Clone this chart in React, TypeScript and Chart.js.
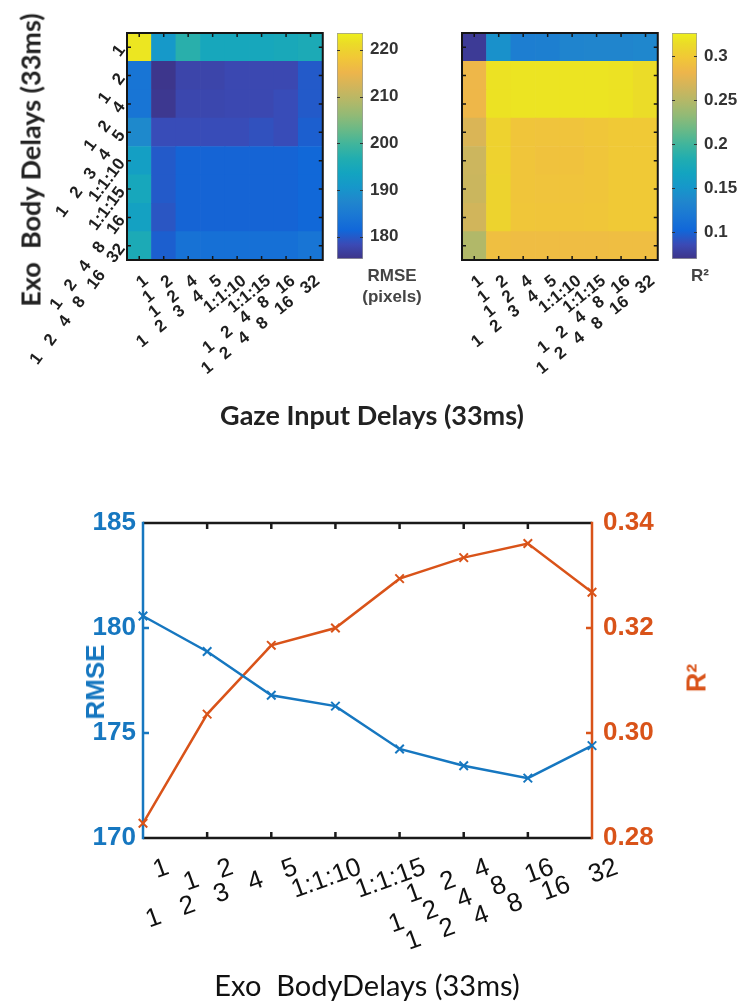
import React, { useEffect, useRef } from 'react';
import { Chart, registerables } from 'chart.js';

Chart.register(...registerables);
Chart.defaults.font.family = "'Liberation Sans', Arial, sans-serif";

// ---------------- data ----------------
const HEAT_X_LABELS = ['1', '1   2', '1   2   4', '1   2   3   4   5', '1:1:10', '1:1:15', '1   2   4   8   16', '1   2   4   8   16   32'];
const HEAT_Y_LABELS = ['1', '1   2', '1   2   4', '1   2   3   4   5', '1:1:10', '1:1:15', '1   2   4   8   16', '1   2   4   8   16   32'];

// rows: top -> bottom (exo body delays), cols: left -> right (gaze input delays)
const RMSE_ROW1 = [222.5, 191, 197.5, 194.5, 194.5, 194.5, 195, 195.5];
const RMSE_ROW2 = [184, 175.5, 177.5, 177.5, 178, 178, 178, 180];
const RMSE_ROW3 = [184, 175.8, 177.8, 177.8, 178, 178, 178.5, 180];
const RMSE_ROW4 = [188, 178.5, 178.5, 178.5, 178.5, 179, 178.5, 180.5];
const RMSE_ROW5 = [192.5, 180, 181, 181, 181, 181, 181, 181.5];
const RMSE_ROW6 = [194.5, 180, 181, 181, 181, 181, 181, 181.5];
const RMSE_ROW7 = [193, 179.5, 181, 181, 181, 181, 181, 181.5];
const RMSE_ROW8 = [195.5, 180.5, 183.5, 183, 183, 183, 183, 184];
const RMSE_GRID = [RMSE_ROW1, RMSE_ROW2, RMSE_ROW3, RMSE_ROW4, RMSE_ROW5, RMSE_ROW6, RMSE_ROW7, RMSE_ROW8];

const R2_ROW1 = [0.075, 0.146, 0.126, 0.127, 0.133, 0.134, 0.134, 0.136];
const R2_ROW2 = [0.283, 0.318, 0.319, 0.319, 0.319, 0.319, 0.318, 0.314];
const R2_ROW3 = [0.283, 0.318, 0.319, 0.319, 0.319, 0.319, 0.318, 0.314];
const R2_ROW4 = [0.27, 0.306, 0.295, 0.294, 0.294, 0.296, 0.299, 0.299];
const R2_ROW5 = [0.262, 0.306, 0.295, 0.293, 0.293, 0.295, 0.299, 0.299];
const R2_ROW6 = [0.261, 0.307, 0.295, 0.294, 0.294, 0.295, 0.299, 0.299];
const R2_ROW7 = [0.265, 0.307, 0.296, 0.295, 0.295, 0.296, 0.299, 0.299];
const R2_ROW8 = [0.248, 0.29, 0.288, 0.288, 0.288, 0.288, 0.289, 0.289];
const R2_GRID = [R2_ROW1, R2_ROW2, R2_ROW3, R2_ROW4, R2_ROW5, R2_ROW6, R2_ROW7, R2_ROW8];

const RMSE_RANGE = [175.2, 223.6];
const R2_RANGE = [0.0697, 0.326];
const RMSE_CB_TICKS = [180, 190, 200, 210, 220];
const R2_CB_TICKS = [0.1, 0.15, 0.2, 0.25, 0.3];

const LINE_LABELS = ['1', '1   2', '1   2   3   4   5', '1:1:10', '1:1:15', '1   2   4', '1   2   4   8   16', '1   2   4   8   16   32'];
const RMSE_LINE = [180.57, 178.88, 176.8, 176.28, 174.24, 173.44, 172.85, 174.4];
const R2_LINE = [0.2828, 0.3036, 0.3167, 0.32, 0.3294, 0.3334, 0.3361, 0.3268];
const RMSE_AXIS_TICKS = [170, 175, 180, 185];
const R2_AXIS_TICKS = [0.28, 0.3, 0.32, 0.34];

// ---------------- styling ----------------
const BLUE = '#1677C0';
const ORANGE = '#D95319';

const PARULA_POS = [0, 4, 8, 12, 16, 20, 24, 28, 32, 36, 40, 44, 48, 52, 56, 60, 63].map((v) => v / 63);
const PARULA_RGB = [
  [53, 42, 135], [50, 67, 186], [3, 99, 225], [13, 117, 220], [20, 133, 212], [9, 152, 209],
  [6, 167, 198], [21, 177, 180], [56, 185, 158], [101, 190, 134], [146, 191, 115], [183, 189, 100],
  [217, 186, 86], [248, 186, 68], [252, 206, 46], [245, 228, 29], [249, 251, 14],
];

// slight wash, as in the printed figure
function wash(c: number[]): number[] {
  return c.map((v) => Math.round(v * 0.9 + 140 * 0.1));
}
function rgbStr(c: number[]): string {
  return `rgb(${c[0]},${c[1]},${c[2]})`;
}

function parula(t: number): string {
  const x = Math.max(0, Math.min(1, t));
  let i = 0;
  while (i < PARULA_POS.length - 2 && x > PARULA_POS[i + 1]) i++;
  const f = (x - PARULA_POS[i]) / (PARULA_POS[i + 1] - PARULA_POS[i]);
  const a = PARULA_RGB[i];
  const b = PARULA_RGB[i + 1];
  return rgbStr(wash(a.map((v, k) => v + (b[k] - v) * f)));
}

const HEAT_TICK_FONT = { family: "'Liberation Sans', Arial, sans-serif", size: 17, weight: 'bold' as const };

const heatFrame = {
  id: 'heatFrame',
  afterDraw(chart: any) {
    const { ctx, chartArea: a, scales } = chart;
    ctx.save();
    ctx.strokeStyle = '#151515';
    ctx.lineWidth = 1.5;
    ctx.beginPath();
    scales.x.ticks.forEach((_: any, i: number) => {
      const px = scales.x.getPixelForTick(i);
      ctx.moveTo(px, a.top);
      ctx.lineTo(px, a.top + 4);
      ctx.moveTo(px, a.bottom);
      ctx.lineTo(px, a.bottom - 4);
    });
    scales.y.ticks.forEach((t: any) => {
      const py = scales.y.getPixelForValue(t.value);
      ctx.moveTo(a.left, py);
      ctx.lineTo(a.left + 4, py);
      ctx.moveTo(a.right, py);
      ctx.lineTo(a.right - 4, py);
    });
    ctx.stroke();
    ctx.lineWidth = 2;
    ctx.strokeRect(a.left, a.top, a.right - a.left, a.bottom - a.top);
    ctx.restore();
  },
};

function heatConfig(grid: number[][], range: number[], showY: boolean): any {
  const datasets: any[] = [];
  for (let r = grid.length - 1; r >= 0; r--) {
    datasets.push({
      data: grid[r].map(() => 1),
      backgroundColor: grid[r].map((v) => parula((v - range[0]) / (range[1] - range[0]))),
      borderWidth: 0,
      barPercentage: 1,
      categoryPercentage: 1,
    });
  }
  const nRows = grid.length;
  return {
    type: 'bar',
    data: { labels: HEAT_X_LABELS, datasets },
    options: {
      animation: false,
      responsive: false,
      events: [],
      layout: { padding: { top: 33, right: 10, left: 0, bottom: 0 } },
      plugins: { legend: { display: false }, tooltip: { enabled: false } },
      scales: {
        x: {
          stacked: true,
          offset: true,
          grid: { display: false, drawTicks: false },
          border: { display: false },
          ticks: {
            autoSkip: false,
            minRotation: 39,
            maxRotation: 39,
            labelOffset: 7,
            padding: 11,
            font: HEAT_TICK_FONT,
            color: '#1e1e1e',
          },
          afterFit: (s: any) => { s.height = 140; },
        },
        y: {
          stacked: true,
          min: 0,
          max: nRows,
          grid: { display: false, drawTicks: false },
          border: { display: false },
          afterBuildTicks: (s: any) => {
            s.ticks = HEAT_Y_LABELS.map((_, i) => ({ value: nRows - 0.5 - i }));
          },
          ticks: {
            display: showY,
            autoSkip: false,
            minRotation: 53,
            maxRotation: 53,
            padding: 5,
            font: HEAT_TICK_FONT,
            color: '#1e1e1e',
            callback: (v: number) => HEAT_Y_LABELS[Math.round(nRows - 0.5 - v)],
          },
          afterFit: (s: any) => { s.width = 127; },
        },
      },
    },
    plugins: [heatFrame],
  };
}

const cbFrame = {
  id: 'cbFrame',
  afterDraw(chart: any) {
    const { ctx, chartArea: a, scales } = chart;
    ctx.save();
    ctx.strokeStyle = '#333';
    ctx.lineWidth = 1;
    ctx.beginPath();
    scales.y.ticks.forEach((t: any) => {
      const py = Math.round(scales.y.getPixelForValue(t.value)) + 0.5;
      ctx.moveTo(a.right, py);
      ctx.lineTo(a.right - 3, py);
      ctx.moveTo(a.left, py);
      ctx.lineTo(a.left + 3, py);
    });
    ctx.stroke();
    ctx.restore();
  },
};

function colorbarConfig(range: number[], ticks: number[], axisWidth: number, bottomPad: number): any {
  return {
    type: 'bar',
    data: {
      labels: [''],
      datasets: [
        {
          data: [[range[0], range[1]]],
          backgroundColor: (c: any) => {
            const chart = c.chart;
            const ys = chart.scales && chart.scales.y;
            if (!ys || !chart.chartArea) return '#888';
            const y0 = ys.getPixelForValue(range[0]);
            const y1 = ys.getPixelForValue(range[1]);
            const g = chart.ctx.createLinearGradient(0, y0, 0, y1);
            PARULA_POS.forEach((p, i) => {
              g.addColorStop(p, rgbStr(wash(PARULA_RGB[i])));
            });
            return g;
          },
          borderColor: '#9a9a9a',
          borderWidth: 1,
          borderSkipped: false,
          barPercentage: 1,
          categoryPercentage: 1,
        },
      ],
    },
    options: {
      animation: false,
      responsive: false,
      events: [],
      layout: { padding: { top: 33, left: 7, right: 0, bottom: bottomPad } },
      plugins: { legend: { display: false }, tooltip: { enabled: false } },
      scales: {
        x: { display: false },
        y: {
          position: 'right',
          min: range[0],
          max: range[1],
          grid: { display: false, drawTicks: false },
          border: { display: false },
          afterBuildTicks: (s: any) => { s.ticks = ticks.map((v) => ({ value: v })); },
          ticks: {
            padding: 7,
            font: { family: "'Liberation Sans', Arial, sans-serif", size: 17, weight: 'bold' },
            color: '#333',
            callback: (v: number) => String(Math.round(v * 100) / 100),
          },
          afterFit: (s: any) => { s.width = axisWidth; },
        },
      },
    },
    plugins: [cbFrame],
  };
}

const lineFrame = {
  id: 'lineFrame',
  beforeDatasetsDraw(chart: any) {
    const { ctx, chartArea: a, scales } = chart;
    ctx.save();
    ctx.lineWidth = 2.5;
    ctx.strokeStyle = '#1a1a1a';
    ctx.beginPath();
    ctx.moveTo(a.left, a.top);
    ctx.lineTo(a.right, a.top);
    ctx.moveTo(a.left, a.bottom);
    ctx.lineTo(a.right, a.bottom);
    const n = scales.x.ticks.length;
    for (let i = 1; i < n - 1; i++) {
      const px = scales.x.getPixelForTick(i);
      ctx.moveTo(px, a.top);
      ctx.lineTo(px, a.top + 6);
      ctx.moveTo(px, a.bottom);
      ctx.lineTo(px, a.bottom - 6);
    }
    ctx.stroke();

    ctx.strokeStyle = BLUE;
    ctx.beginPath();
    ctx.moveTo(a.left, a.top - 1.25);
    ctx.lineTo(a.left, a.bottom + 1.25);
    scales.y.ticks.forEach((t: any) => {
      if (t.value > scales.y.min && t.value < scales.y.max) {
        const py = scales.y.getPixelForValue(t.value);
        ctx.moveTo(a.left, py);
        ctx.lineTo(a.left + 6, py);
      }
    });
    ctx.stroke();

    ctx.strokeStyle = ORANGE;
    ctx.beginPath();
    ctx.moveTo(a.right, a.top - 1.25);
    ctx.lineTo(a.right, a.bottom + 1.25);
    scales.y1.ticks.forEach((t: any) => {
      if (t.value > scales.y1.min + 1e-9 && t.value < scales.y1.max - 1e-9) {
        const py = scales.y1.getPixelForValue(t.value);
        ctx.moveTo(a.right, py);
        ctx.lineTo(a.right - 6, py);
      }
    });
    ctx.stroke();
    ctx.restore();
  },
};

function lineConfig(): any {
  const tickFont = { family: "'Liberation Sans', Arial, sans-serif", size: 26, weight: 'bold' as const };
  return {
    type: 'line',
    data: {
      labels: LINE_LABELS,
      datasets: [
        {
          label: 'RMSE',
          data: RMSE_LINE,
          yAxisID: 'y',
          borderColor: BLUE,
          backgroundColor: BLUE,
          borderWidth: 2.5,
          pointStyle: 'crossRot',
          pointRadius: 6,
          pointBorderWidth: 2,
          tension: 0,
          clip: false,
        },
        {
          label: 'R2',
          data: R2_LINE,
          yAxisID: 'y1',
          borderColor: ORANGE,
          backgroundColor: ORANGE,
          borderWidth: 2.5,
          pointStyle: 'crossRot',
          pointRadius: 6,
          pointBorderWidth: 2,
          tension: 0,
          clip: false,
        },
      ],
    },
    options: {
      animation: false,
      responsive: false,
      events: [],
      layout: { padding: { top: 43, left: 0, right: 0, bottom: 0 } },
      plugins: { legend: { display: false }, tooltip: { enabled: false } },
      scales: {
        x: {
          offset: false,
          grid: { display: false, drawTicks: false },
          border: { display: false },
          ticks: {
            autoSkip: false,
            minRotation: 20,
            maxRotation: 20,
            labelOffset: 25,
            padding: 14,
            font: { family: "'Liberation Sans', Arial, sans-serif", size: 26 },
            color: '#111',
          },
          afterFit: (s: any) => { s.height = 168; },
        },
        y: {
          position: 'left',
          min: 170,
          max: 185,
          grid: { display: false, drawTicks: false },
          border: { display: false },
          afterBuildTicks: (s: any) => { s.ticks = RMSE_AXIS_TICKS.map((v) => ({ value: v })); },
          ticks: { padding: 7, font: tickFont, color: BLUE },
          afterFit: (s: any) => { s.width = 143; },
        },
        y1: {
          position: 'right',
          min: 0.28,
          max: 0.34,
          grid: { display: false, drawTicks: false },
          border: { display: false },
          afterBuildTicks: (s: any) => { s.ticks = R2_AXIS_TICKS.map((v) => ({ value: v })); },
          ticks: { padding: 11, font: tickFont, color: ORANGE, callback: (v: number) => v.toFixed(2) },
          afterFit: (s: any) => { s.width = 148; },
        },
      },
    },
    plugins: [lineFrame],
  };
}

// ---------------- components ----------------
function ChartBox(props: { make: () => any; left: number; top: number; width: number; height: number }) {
  const ref = useRef<HTMLCanvasElement>(null);
  useEffect(() => {
    const chart = new Chart(ref.current as HTMLCanvasElement, props.make());
    return () => chart.destroy();
  }, []);
  return (
    <canvas
      ref={ref}
      width={props.width}
      height={props.height}
      style={{ position: 'absolute', left: props.left, top: props.top, width: props.width, height: props.height }}
    />
  );
}

function Label(props: { text: string; cx: number; cy: number; rotate?: number; font: string; color: string }) {
  return (
    <div
      style={{
        position: 'absolute',
        left: props.cx,
        top: props.cy,
        transform: `translate(-50%, -50%) rotate(${props.rotate || 0}deg)`,
        whiteSpace: 'pre',
        font: props.font,
        lineHeight: 1,
        color: props.color,
      }}
    >
      {props.text}
    </div>
  );
}

export default function App() {
  return (
    <div style={{ position: 'absolute', left: 0, top: 0, width: 740, height: 1006, background: '#fff', overflow: 'hidden' }}>
      <ChartBox make={() => heatConfig(RMSE_GRID, RMSE_RANGE, true)} left={0} top={0} width={335} height={400} />
      <ChartBox make={() => colorbarConfig(RMSE_RANGE, RMSE_CB_TICKS, 77, 41)} left={330} top={0} width={110} height={300} />
      <ChartBox make={() => heatConfig(R2_GRID, R2_RANGE, false)} left={335} top={0} width={335} height={400} />
      <ChartBox make={() => colorbarConfig(R2_RANGE, R2_CB_TICKS, 43, 41)} left={665} top={0} width={75} height={300} />
      <ChartBox make={lineConfig} left={0} top={480} width={740} height={526} />

      <Label text="Exo  Body Delays (33ms)" cx={30} cy={160} rotate={-90} font="bold 27px Lato, 'Open Sans', sans-serif" color="#222" />
      <Label text="Gaze Input Delays (33ms)" cx={372} cy={414} font="bold 27px Lato, 'Open Sans', sans-serif" color="#222" />
      <Label text="RMSE" cx={392} cy={275} font="bold 17px 'Liberation Sans', Arial, sans-serif" color="#444" />
      <Label text="(pixels)" cx={392} cy={296} font="bold 17px 'Liberation Sans', Arial, sans-serif" color="#444" />
      <Label text="R²" cx={700} cy={275} font="bold 17px 'Liberation Sans', Arial, sans-serif" color="#444" />

      <Label text="RMSE" cx={95} cy={682} rotate={-90} font="bold 26px 'Liberation Sans', Arial, sans-serif" color={BLUE} />
      <Label text="R²" cx={697} cy={678} rotate={-90} font="bold 27px 'Liberation Sans', Arial, sans-serif" color={ORANGE} />
      <Label text="Exo  BodyDelays (33ms)" cx={367} cy={984} font="29px Lato, 'Open Sans', sans-serif" color="#111" />
    </div>
  );
}
